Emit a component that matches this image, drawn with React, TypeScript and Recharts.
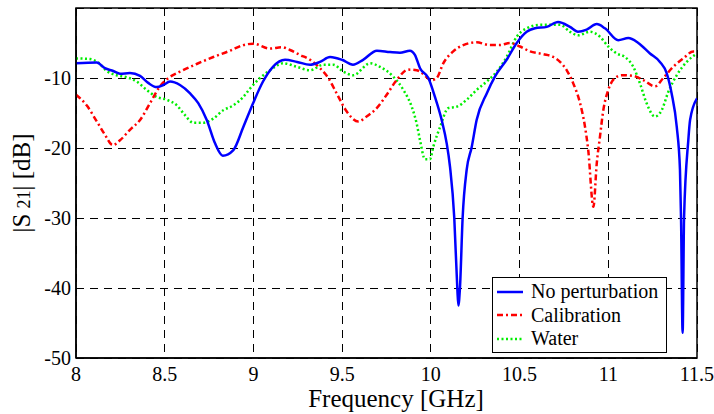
import { LineChart, Line, XAxis, YAxis, CartesianGrid, ReferenceArea } from "recharts";

const serif = '"Liberation Serif", Tinos, "Times New Roman", Times, "Nimbus Roman", FreeSerif, "Noto Serif", "DejaVu Serif", serif';

const xTicks = [8, 8.5, 9, 9.5, 10, 10.5, 11, 11.5];
const yTicks = [0, -10, -20, -30, -40, -50];

// No perturbation (blue, solid)
const noPertFreq = [8.0, 8.117, 8.163, 8.21, 8.248, 8.304, 8.361, 8.407, 8.455, 8.492, 8.53, 8.586, 8.643, 8.689, 8.737, 8.783, 8.827, 8.887, 8.943, 8.998, 9.054, 9.11, 9.178, 9.246, 9.319, 9.375, 9.432, 9.499, 9.561, 9.618, 9.696, 9.77, 9.826, 9.882, 9.91, 9.939, 9.986, 10.023, 10.061, 10.089, 10.108, 10.132, 10.149, 10.155, 10.164, 10.179, 10.202, 10.23, 10.258, 10.315, 10.361, 10.427, 10.484, 10.54, 10.587, 10.653, 10.717, 10.784, 10.829, 10.878, 10.935, 10.981, 11.056, 11.113, 11.169, 11.235, 11.291, 11.329, 11.357, 11.386, 11.404, 11.41, 11.419, 11.427, 11.451, 11.461, 11.5];
const noPertDb = [-7.9, -7.8, -8.6, -9.0, -9.4, -9.3, -9.7, -10.7, -11.3, -11.0, -10.5, -11.0, -12.2, -13.6, -16.0, -19.3, -21.1, -20.3, -17.0, -13.6, -10.5, -8.4, -7.4, -7.7, -8.1, -7.7, -7.0, -7.4, -8.1, -7.4, -6.1, -6.3, -6.4, -6.1, -6.7, -8.6, -10.0, -12.7, -16.0, -19.3, -22.7, -30.0, -40.0, -42.5, -40.0, -30.0, -23.1, -19.9, -16.0, -12.2, -9.8, -7.4, -5.0, -3.4, -2.9, -2.7, -2.0, -2.7, -3.4, -3.1, -2.3, -2.9, -4.6, -4.3, -5.0, -6.5, -7.7, -9.3, -12.2, -17.0, -23.1, -30.0, -46.4, -30.0, -18.9, -16.0, -12.9];

// Calibration (red, dash-dot)
const calFreq = [8.0, 8.06, 8.117, 8.163, 8.207, 8.248, 8.304, 8.361, 8.417, 8.473, 8.511, 8.586, 8.68, 8.774, 8.868, 8.943, 8.999, 9.093, 9.159, 9.206, 9.262, 9.319, 9.375, 9.422, 9.469, 9.526, 9.591, 9.638, 9.695, 9.751, 9.807, 9.873, 9.92, 9.939, 10.005, 10.033, 10.07, 10.126, 10.183, 10.258, 10.333, 10.39, 10.446, 10.502, 10.559, 10.634, 10.69, 10.728, 10.766, 10.803, 10.841, 10.869, 10.887, 10.916, 10.935, 10.953, 10.972, 11.0, 11.038, 11.076, 11.141, 11.197, 11.263, 11.31, 11.366, 11.423, 11.479, 11.5];
const calDb = [-12.4, -13.9, -16.2, -18.1, -19.6, -18.9, -17.4, -16.0, -13.6, -11.2, -10.2, -9.1, -8.0, -7.0, -6.1, -5.3, -5.1, -5.8, -5.6, -6.0, -6.7, -7.4, -8.6, -10.0, -12.2, -14.8, -16.2, -15.5, -14.3, -12.4, -10.3, -8.8, -8.9, -9.1, -10.3, -10.0, -7.9, -6.2, -5.3, -4.9, -5.3, -5.3, -5.0, -5.5, -6.2, -6.6, -7.0, -7.7, -8.9, -10.8, -13.6, -17.0, -20.3, -28.4, -22.2, -18.4, -14.6, -11.7, -10.0, -9.6, -9.7, -10.3, -11.2, -10.0, -8.4, -7.2, -6.2, -6.2];

// Water (green, dotted)
const waterFreq = [8.0, 8.079, 8.126, 8.173, 8.229, 8.286, 8.342, 8.398, 8.455, 8.511, 8.568, 8.614, 8.661, 8.717, 8.774, 8.83, 8.887, 8.943, 8.981, 9.037, 9.093, 9.168, 9.244, 9.319, 9.394, 9.45, 9.507, 9.563, 9.657, 9.713, 9.788, 9.845, 9.892, 9.92, 9.939, 9.967, 9.995, 10.014, 10.052, 10.098, 10.146, 10.202, 10.258, 10.315, 10.371, 10.427, 10.484, 10.54, 10.615, 10.672, 10.728, 10.784, 10.831, 10.897, 10.953, 11.0, 11.047, 11.094, 11.141, 11.179, 11.216, 11.263, 11.301, 11.338, 11.386, 11.442, 11.5];
const waterDb = [-7.2, -7.3, -7.8, -9.0, -9.6, -9.9, -10.5, -11.7, -12.7, -13.1, -13.9, -15.3, -16.4, -16.4, -15.8, -14.6, -13.9, -12.7, -11.5, -10.0, -8.9, -7.9, -8.4, -8.9, -8.1, -8.1, -9.1, -9.6, -7.9, -8.4, -9.8, -11.7, -14.1, -16.5, -18.9, -21.6, -21.6, -19.8, -17.0, -14.3, -14.1, -13.1, -11.7, -10.5, -9.1, -7.0, -4.1, -2.9, -2.4, -2.4, -2.4, -3.4, -3.9, -3.4, -4.1, -5.5, -6.5, -7.0, -8.4, -10.8, -13.6, -15.5, -14.6, -12.0, -9.6, -7.7, -6.5];

const toPoints = (f: number[], db: number[]) => f.map((x, i) => ({ f: x, db: db[i] }));

const noPert = toPoints(noPertFreq, noPertDb);
const calibration = toPoints(calFreq, calDb);
const water = toPoints(waterFreq, waterDb);

const BLUE = "#0000ff";
const RED = "#ff0000";
const GREEN = "#00ee00";

const legendItems = [
  { name: "No perturbation", color: BLUE, dash: undefined },
  { name: "Calibration", color: RED, dash: "6 3 2 3" },
  { name: "Water", color: GREEN, dash: "2 2.5" },
];

const tick = { fontSize: 20, fill: "#000", fontFamily: serif };

export default function App() {
  return (
    <div style={{ position: "absolute", left: 0, top: 0, width: 714, height: 414, background: "#fff", fontFamily: serif }}>
      <LineChart width={714} height={414} margin={{ top: 8, right: 17, left: 0, bottom: 0 }} style={{ fontFamily: serif }}>
        <CartesianGrid stroke="#000" strokeDasharray="8 6" strokeWidth={1} shapeRendering="crispEdges" />
        <XAxis
          dataKey="f"
          type="number"
          domain={[8, 11.5]}
          ticks={xTicks}
          allowDataOverflow
          height={56}
          tick={tick}
          tickLine={false}
          tickSize={0}
          tickMargin={9}
          axisLine={{ stroke: "#000", strokeWidth: 1.5 }}
          label={{
            content: () => (
              <text x={396} y={407} textAnchor="middle" fontSize={25} fill="#000" style={{ fontFamily: serif }}>
                Frequency [GHz]
              </text>
            ),
          }}
        />
        <YAxis
          dataKey="db"
          type="number"
          domain={[-50, 0]}
          ticks={yTicks}
          allowDataOverflow
          width={76}
          tick={tick}
          tickLine={false}
          tickSize={0}
          tickMargin={5}
          axisLine={{ stroke: "#000", strokeWidth: 1.5 }}
          label={{
            content: () => (
              <text x={30} y={183} transform="rotate(-90, 30, 183)" textAnchor="middle" fontSize={25} fill="#000" style={{ fontFamily: serif }}>
                |S<tspan fontSize={18} dx={5}>21</tspan>
                <tspan fontSize={25}>| [dB]</tspan>
              </text>
            ),
          }}
        />
        <ReferenceArea x1={8} x2={11.5} y1={-50} y2={0} fill="none" stroke="#000" strokeWidth={1.5} />
        <Line data={water} dataKey="db" name="Water" type="monotone" stroke={GREEN} strokeWidth={2.5}
          strokeDasharray="2 2.5" dot={false} isAnimationActive={false} />
        <Line data={calibration} dataKey="db" name="Calibration" type="monotone" stroke={RED} strokeWidth={2.5}
          strokeDasharray="6 3 2 3" dot={false} isAnimationActive={false} />
        <Line data={noPert} dataKey="db" name="No perturbation" type="monotone" stroke={BLUE} strokeWidth={2.5}
          dot={false} isAnimationActive={false} />
      </LineChart>

      <div style={{
        position: "absolute", left: 492, top: 277, width: 175, height: 76, boxSizing: "border-box",
        border: "1.5px solid #000", background: "#fff", paddingTop: 2, fontSize: 20, color: "#000",
      }}>
        {legendItems.map((it) => (
          <div key={it.name} style={{ display: "flex", alignItems: "center", height: 23.5, lineHeight: "23px" }}>
            <svg width={30} height={10} style={{ marginLeft: 4, marginRight: 4 }}>
              <line x1={0} y1={5} x2={26} y2={5} stroke={it.color} strokeWidth={2.5} strokeDasharray={it.dash} />
            </svg>
            <span>{it.name}</span>
          </div>
        ))}
      </div>
    </div>
  );
}
